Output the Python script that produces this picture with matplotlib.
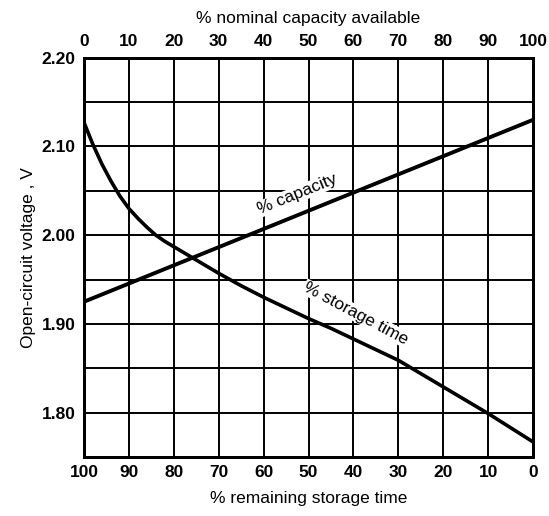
import matplotlib
matplotlib.use("Agg")
import matplotlib.pyplot as plt
import numpy as np

# Data
capacity_pct = [0, 100]
capacity_voltage = [1.925, 2.130]

storage_pct = [100, 98, 96, 94, 92, 90, 88, 86, 84, 82, 80, 75, 70, 65, 60, 55,
               50, 45, 40, 35, 30, 25, 20, 15, 10, 5, 0]
storage_voltage = [2.127, 2.102, 2.080, 2.061, 2.044, 2.030, 2.019, 2.009, 2.000,
                   1.993, 1.987, 1.972, 1.957, 1.943, 1.930, 1.918, 1.906, 1.895,
                   1.883, 1.871, 1.859, 1.844, 1.829, 1.814, 1.799, 1.783, 1.767]

x_ticks = list(range(0, 101, 10))
y_major = [1.80, 1.90, 2.00, 2.10, 2.20]
y_minor = [1.75, 1.85, 1.95, 2.05, 2.15]

plt.rcParams['font.family'] = ['Liberation Sans', 'DejaVu Sans']

fig = plt.figure(figsize=(5.49, 5.16), dpi=100)
ax = fig.add_axes([0.153, 0.1143, 0.818, 0.7739])

# bottom axis: % remaining storage time (reversed)
ax.set_xlim(100, 0)
ax.set_ylim(1.75, 2.20)
ax.set_xticks(x_ticks)
ax.set_xticklabels([str(v) for v in x_ticks])
ax.set_yticks(y_major)
ax.set_yticklabels([f"{v:.2f}" for v in y_major])
ax.set_yticks(y_minor, minor=True)
ax.grid(True, which='both', color='black', linewidth=1.4)
ax.tick_params(axis='both', which='both', length=0, labelsize=12.5, pad=6)
for lab in ax.get_xticklabels() + ax.get_yticklabels():
    lab.set_fontweight('bold')
for s in ax.spines.values():
    s.set_linewidth(2.0)

ax.plot(storage_pct, storage_voltage, color='black', linewidth=2.6,
        solid_capstyle='butt', zorder=5)

# top axis: % nominal capacity available
ax2 = ax.twiny()
ax2.set_xlim(0, 100)
ax2.set_xticks(x_ticks)
ax2.set_xticklabels([str(v) for v in x_ticks])
ax2.tick_params(axis='x', length=0, labelsize=12.5, pad=6)
for lab in ax2.get_xticklabels():
    lab.set_fontweight('bold')
for s in ax2.spines.values():
    s.set_linewidth(2.0)
ax2.plot(capacity_pct, capacity_voltage, color='black', linewidth=2.8,
         solid_capstyle='butt', zorder=5)

ax.set_xlabel('% remaining storage time', fontsize=12.5, labelpad=8)
ax.set_ylabel('Open-circuit voltage , V', fontsize=12.5, labelpad=4)
ax2.set_xlabel('% nominal capacity available', fontsize=12.5, labelpad=8)

# curve labels
ax2.text(47.5, 2.046, '% capacity', rotation=22, ha='center', va='center',
         fontsize=12.5, bbox=dict(facecolor='white', edgecolor='none', pad=0.5),
         zorder=6)
ax.text(39.5, 1.912, '% storage time', rotation=-28, ha='center', va='center',
        fontsize=12.5, bbox=dict(facecolor='white', edgecolor='none', pad=0.5),
        zorder=6)

fig.savefig('out.png', dpi=100)
